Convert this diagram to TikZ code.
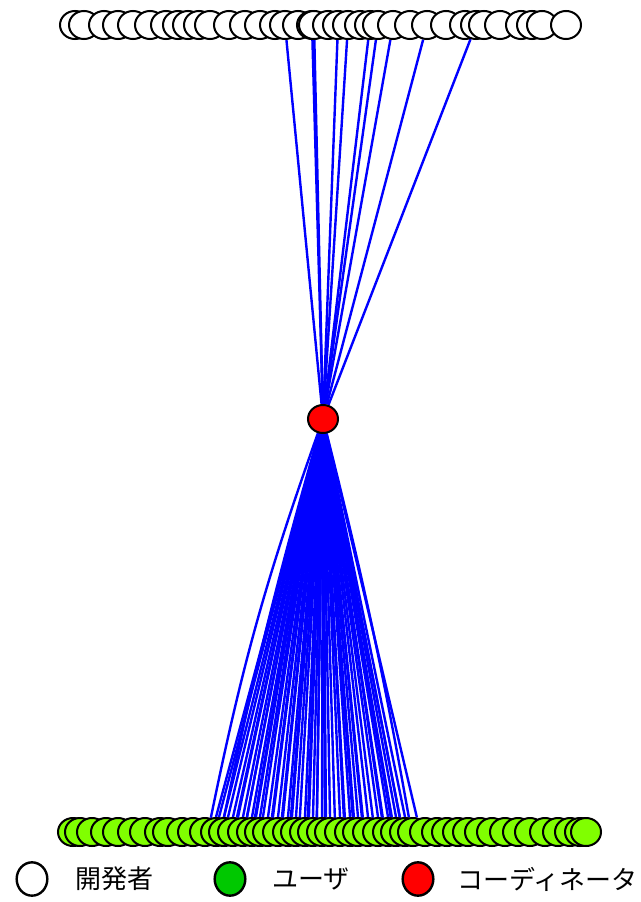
\documentclass[tikz,border=0pt]{standalone}
\usepackage{fontspec}
\newfontfamily\jp{Noto Sans CJK JP}
\usetikzlibrary{shapes.geometric}
\definecolor{usrgreen}{HTML}{80FF00}
\definecolor{leggreen}{HTML}{00C800}
\definecolor{coordred}{HTML}{FF0000}
\definecolor{edgeblue}{HTML}{0000FF}
\pgfdeclarelayer{back}
\pgfdeclarelayer{bg}
\pgfsetlayers{back,bg,main}
\begin{document}
\begin{tikzpicture}[x=0.75pt,y=-0.75pt,
  dev/.style={ellipse,draw=black,line width=1.5pt,fill=white,minimum width=22.5pt,minimum height=21pt,inner sep=0pt},
  usr/.style={dev,fill=usrgreen},
  crd/.style={dev,fill=coordred},
  legdev/.style={ellipse,draw=black,line width=1.8pt,fill=white,minimum width=23pt,minimum height=25pt,inner sep=0pt},
  legtext/.style={anchor=west,inner sep=0pt,font=\jp\fontsize{19.5pt}{22pt}\selectfont},
  edge/.style={draw=edgeblue,line width=1.8pt}]
\begin{pgfonlayer}{back}
\fill[white] (0,0) rectangle (640,902);
\end{pgfonlayer}
\useasboundingbox (0,0) rectangle (640,902);
% developers (top row)
\foreach \x in {75,84,104,118,133,150,166,178,188,199,210,229,245,260,275,285,298,312,314,328,338,348,360,370,378,393,410,427,446,465,476,484,500,521,532,542,566}
  \node[dev] (t\x) at (\x,25) {};
% coordinator
\node[crd] (c) at (323,419) {};
% users (bottom row)
\foreach \x in {73,80,92,106,118,133,145,160,168,182,193,205,216,224,233,243,252,260,268,278,288,296,305,313,322,330,340,350,358,368,378,388,396,405,413,425,437,447,458,468,480,492,505,518,530,545,558,570,580,586}
  \node[usr] (b\x) at (\x,832) {};
% edges
\begin{pgfonlayer}{bg}
\foreach \x in {285,312,314,338,348,370,378,393,427,476}
  \draw[edge] (c) -- (t\x);
\foreach \x in {224,233,243,252,260,268,278,288,296,305,313,322,330,340,350,358,368,378,388,396,405}{
  \draw[edge] (c) -- (b\x.north);
  \draw[edge] (c) -- (b\x.110);
}
\foreach \x in {233,243,252,268,278,288,305,313,322,340,350,358,378,388,396,413}
  \draw[edge] (c) -- (b\x.75);
\draw[edge] (c) -- (b216.north);
\draw[edge] (c) to[bend right=4] (b216.110);
\draw[edge] (c) to[bend right=2] (b224.north);
\draw[edge] (c) to[bend left=2] (b405.75);
\end{pgfonlayer}
% legend
\node[legdev] (l1) at (32,879) {};
\node[legtext] (l1t) at (75,879) {開発者};
\node[legdev,fill=leggreen] (l2) at (230,879) {};
\node[legtext] (l2t) at (272,879) {ユーザ};
\node[legdev,fill=coordred] (l3) at (418,879) {};
\node[legtext] (l3t) at (457,879) {コーディネータ};
\end{tikzpicture}
\end{document}
